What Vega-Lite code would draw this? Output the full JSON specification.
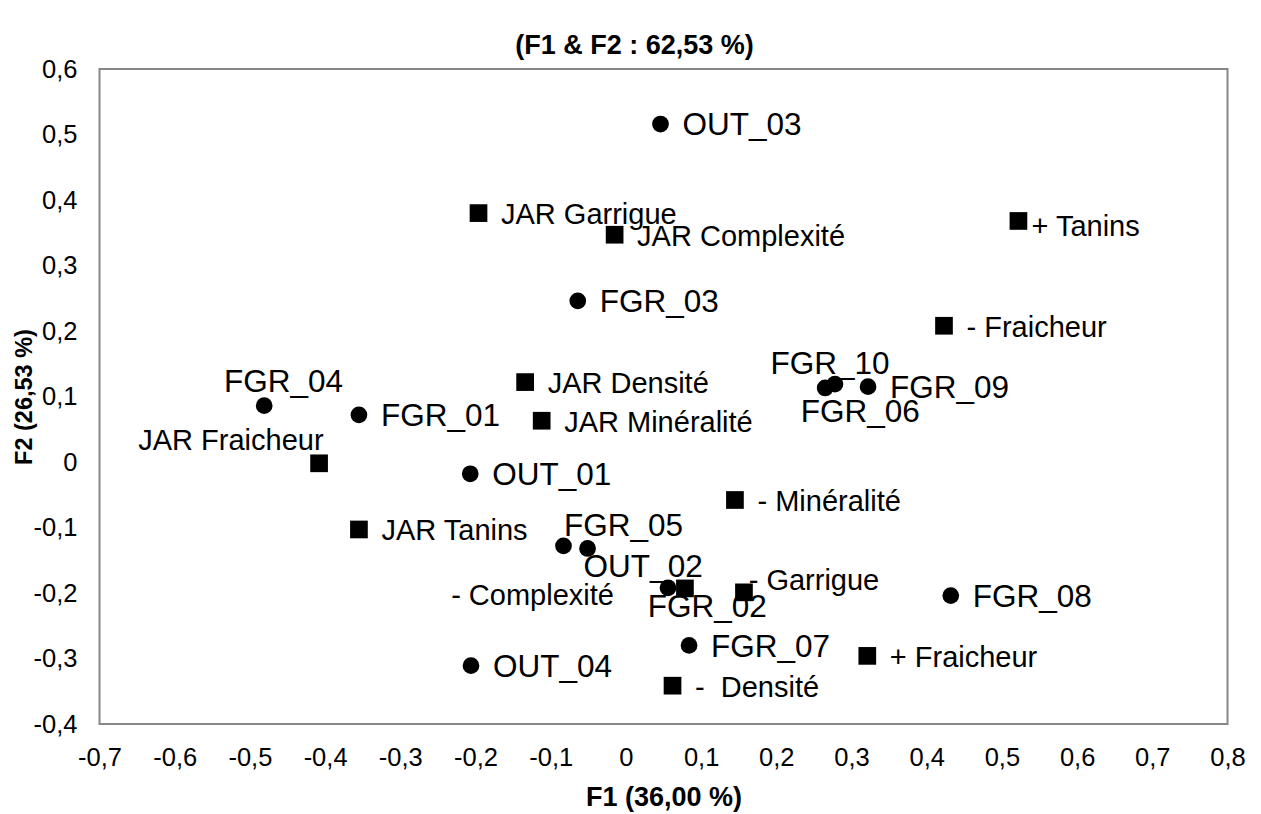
{
  "$schema": "https://vega.github.io/schema/vega-lite/v6.json",
  "width": 1128,
  "height": 655,
  "autosize": {"type": "none"},
  "padding": {"left": 99.5, "top": 69, "right": 33.5, "bottom": 90},
  "background": "white",
  "title": {"text": "(F1 & F2 : 62,53 %)", "font": "Liberation Sans", "fontSize": 27, "fontWeight": "bold", "color": "black", "anchor": "middle", "baseline": "alphabetic", "offset": 14, "dx": -29, "dy": 38},
  "config": {
    "view": {"stroke": "#878787", "strokeWidth": 2},
    "font": "Liberation Sans",
    "axis": {"labelFont": "Liberation Sans", "titleFont": "Liberation Sans", "labelColor": "black", "titleColor": "black", "titleFontWeight": "bold", "grid": false, "domain": false, "ticks": false, "labelFlush": false}
  },
  "datasets": {
    "pts": [
      {"name": "OUT_03", "type": "obs", "F1": 0.046, "F2": 0.516},
      {"name": "FGR_03", "type": "obs", "F1": -0.064, "F2": 0.246},
      {"name": "FGR_04", "type": "obs", "F1": -0.481, "F2": 0.086},
      {"name": "FGR_01", "type": "obs", "F1": -0.355, "F2": 0.072},
      {"name": "OUT_01", "type": "obs", "F1": -0.207, "F2": -0.018},
      {"name": "FGR_10", "type": "obs", "F1": 0.278, "F2": 0.119},
      {"name": "FGR_06", "type": "obs", "F1": 0.265, "F2": 0.113},
      {"name": "FGR_09", "type": "obs", "F1": 0.322, "F2": 0.115},
      {"name": "FGR_05", "type": "obs", "F1": -0.083, "F2": -0.128},
      {"name": "OUT_02", "type": "obs", "F1": -0.051, "F2": -0.132},
      {"name": "FGR_02", "type": "obs", "F1": 0.056, "F2": -0.192},
      {"name": "FGR_08", "type": "obs", "F1": 0.432, "F2": -0.204},
      {"name": "FGR_07", "type": "obs", "F1": 0.084, "F2": -0.280},
      {"name": "OUT_04", "type": "obs", "F1": -0.206, "F2": -0.311},
      {"name": "JAR Garrigue", "type": "var", "F1": -0.196, "F2": 0.380},
      {"name": "JAR Complexité", "type": "var", "F1": -0.015, "F2": 0.347},
      {"name": "+ Tanins", "type": "var", "F1": 0.522, "F2": 0.368},
      {"name": "- Fraicheur", "type": "var", "F1": 0.423, "F2": 0.208},
      {"name": "JAR Densité", "type": "var", "F1": -0.134, "F2": 0.122},
      {"name": "JAR Minéralité", "type": "var", "F1": -0.112, "F2": 0.063},
      {"name": "JAR Fraicheur", "type": "var", "F1": -0.408, "F2": -0.002},
      {"name": "JAR Tanins", "type": "var", "F1": -0.355, "F2": -0.103},
      {"name": "- Minéralité", "type": "var", "F1": 0.145, "F2": -0.058},
      {"name": "- Complexité", "type": "var", "F1": 0.0785, "F2": -0.193},
      {"name": "- Garrigue", "type": "var", "F1": 0.157, "F2": -0.199},
      {"name": "+ Fraicheur", "type": "var", "F1": 0.321, "F2": -0.296},
      {"name": "- \u00a0Densité", "type": "var", "F1": 0.062, "F2": -0.3415}
    ],
    "xt": [{"v": -0.6}, {"v": -0.5}, {"v": -0.4}, {"v": -0.3}, {"v": -0.2}, {"v": -0.1}, {"v": 0.1}, {"v": 0.2}, {"v": 0.3}, {"v": 0.4}, {"v": 0.5}, {"v": 0.6}, {"v": 0.7}],
    "yt": [{"v": -0.3}, {"v": -0.2}, {"v": -0.1}, {"v": 0.1}, {"v": 0.2}, {"v": 0.3}, {"v": 0.4}, {"v": 0.5}]
  },
  "encoding": {
    "x": {"field": "F1", "type": "quantitative", "title": "F1 (36,00 %)",
      "scale": {"domain": [-0.7, 0.8], "nice": false, "zero": false},
      "axis": {"values": [-0.7, -0.6, -0.5, -0.4, -0.3, -0.2, -0.1, 0, 0.1, 0.2, 0.3, 0.4, 0.5, 0.6, 0.7, 0.8],
        "labelExpr": "replace(replace(format(datum.value, '.1~f'), '.', ','), '−', '-')",
        "labelFontSize": 25.5, "labelPadding": 21, "titleFontSize": 27, "titlePadding": 14}},
    "y": {"field": "F2", "type": "quantitative", "title": "F2 (26,53 %)",
      "scale": {"domain": [-0.4, 0.6], "nice": false, "zero": false},
      "axis": {"values": [-0.4, -0.3, -0.2, -0.1, 0, 0.1, 0.2, 0.3, 0.4, 0.5, 0.6],
        "labelExpr": "replace(replace(format(datum.value, '.1~f'), '.', ','), '−', '-')",
        "labelFontSize": 25.5, "labelPadding": 22.5, "titleFontSize": 23.5, "titlePadding": -3}}
  },
  "layer": [
    {"mark": {"type": "rule", "color": "#898989", "strokeWidth": 1},
      "encoding": {"x": {"datum": 0, "type": "quantitative", "title": "F1 (36,00 %)"}, "y": null}},
    {"mark": {"type": "rule", "color": "#898989", "strokeWidth": 1},
      "encoding": {"y": {"datum": 0, "type": "quantitative", "title": "F2 (26,53 %)"}, "x": null}},
    {"data": {"name": "xt"}, "mark": {"type": "tick", "orient": "vertical", "size": 15, "thickness": 1, "color": "#898989", "opacity": 1},
      "encoding": {"x": {"field": "v", "type": "quantitative", "title": "F1 (36,00 %)"}, "y": {"datum": 0, "type": "quantitative", "title": "F2 (26,53 %)"}}},
    {"data": {"name": "yt"}, "mark": {"type": "tick", "orient": "horizontal", "size": 15, "thickness": 1, "color": "#898989", "opacity": 1},
      "encoding": {"y": {"field": "v", "type": "quantitative", "title": "F2 (26,53 %)"}, "x": {"datum": 0, "type": "quantitative", "title": "F1 (36,00 %)"}}},
    {"data": {"name": "pts"}, "transform": [{"filter": {"field": "type", "equal": "obs"}}],
      "mark": {"type": "point", "shape": "circle", "filled": true, "size": 280, "color": "black", "opacity": 1, "strokeWidth": 0}},
    {"data": {"name": "pts"}, "transform": [{"filter": {"field": "type", "equal": "var"}}],
      "mark": {"type": "point", "shape": "square", "filled": true, "size": 313, "color": "black", "opacity": 1, "strokeWidth": 0}},
    {"data": {"name": "pts"},
      "transform": [{"filter": {"and": [{"field": "type", "equal": "obs"}, {"not": {"field": "name", "oneOf": ["FGR_04", "FGR_05", "OUT_02", "FGR_02", "FGR_10", "FGR_06"]}}]}}],
      "mark": {"type": "text", "align": "left", "baseline": "middle", "dx": 22, "dy": 2.2, "fontSize": 31.5, "color": "black", "font": "Liberation Sans"},
      "encoding": {"text": {"field": "name"}}},
    {"data": {"name": "pts"},
      "transform": [{"filter": {"and": [{"field": "type", "equal": "var"}, {"not": {"field": "name", "oneOf": ["+ Tanins", "- Garrigue", "- Complexité", "JAR Fraicheur"]}}]}}],
      "mark": {"type": "text", "align": "left", "baseline": "middle", "dx": 22.5, "dy": 2, "fontSize": 29, "color": "black", "font": "Liberation Sans"},
      "encoding": {"text": {"field": "name"}}},
    {"data": {"name": "pts"}, "transform": [{"filter": {"field": "name", "equal": "+ Tanins"}}],
      "mark": {"type": "text", "align": "left", "baseline": "middle", "dx": 13, "dy": 5.7, "fontSize": 29, "color": "black", "font": "Liberation Sans"},
      "encoding": {"text": {"field": "name"}}},
    {"data": {"name": "pts"}, "transform": [{"filter": {"field": "name", "equal": "- Garrigue"}}],
      "mark": {"type": "text", "align": "left", "baseline": "middle", "dx": 4.7, "dy": -11.3, "fontSize": 29, "color": "black", "font": "Liberation Sans"},
      "encoding": {"text": {"field": "name"}}},
    {"data": {"name": "pts"}, "transform": [{"filter": {"field": "name", "equal": "- Complexité"}}],
      "mark": {"type": "text", "align": "right", "baseline": "middle", "dx": -71, "dy": 7.4, "fontSize": 29, "color": "black", "font": "Liberation Sans"},
      "encoding": {"text": {"field": "name"}}},
    {"data": {"name": "pts"}, "transform": [{"filter": {"field": "name", "equal": "JAR Fraicheur"}}],
      "mark": {"type": "text", "align": "right", "baseline": "middle", "dx": 4.5, "dy": -21.9, "fontSize": 29, "color": "black", "font": "Liberation Sans"},
      "encoding": {"text": {"field": "name"}}},
    {"data": {"name": "pts"}, "transform": [{"filter": {"field": "name", "equal": "FGR_04"}}],
      "mark": {"type": "text", "align": "center", "baseline": "middle", "dx": 19.3, "dy": -23.1, "fontSize": 31.5, "color": "black", "font": "Liberation Sans"},
      "encoding": {"text": {"field": "name"}}},
    {"data": {"name": "pts"}, "transform": [{"filter": {"field": "name", "equal": "FGR_05"}}],
      "mark": {"type": "text", "align": "center", "baseline": "middle", "dx": 60, "dy": -18.6, "fontSize": 31.5, "color": "black", "font": "Liberation Sans"},
      "encoding": {"text": {"field": "name"}}},
    {"data": {"name": "pts"}, "transform": [{"filter": {"field": "name", "equal": "OUT_02"}}],
      "mark": {"type": "text", "align": "center", "baseline": "middle", "dx": 55.6, "dy": 19.3, "fontSize": 31.5, "color": "black", "font": "Liberation Sans"},
      "encoding": {"text": {"field": "name"}}},
    {"data": {"name": "pts"}, "transform": [{"filter": {"field": "name", "equal": "FGR_02"}}],
      "mark": {"type": "text", "align": "center", "baseline": "middle", "dx": 39.2, "dy": 20, "fontSize": 31.5, "color": "black", "font": "Liberation Sans"},
      "encoding": {"text": {"field": "name"}}},
    {"data": {"name": "pts"}, "transform": [{"filter": {"field": "name", "equal": "FGR_10"}}],
      "mark": {"type": "text", "align": "center", "baseline": "middle", "dx": -5, "dy": -19.2, "fontSize": 31.5, "color": "black", "font": "Liberation Sans"},
      "encoding": {"text": {"field": "name"}}},
    {"data": {"name": "pts"}, "transform": [{"filter": {"field": "name", "equal": "FGR_06"}}],
      "mark": {"type": "text", "align": "center", "baseline": "middle", "dx": 35, "dy": 25.2, "fontSize": 31.5, "color": "black", "font": "Liberation Sans"},
      "encoding": {"text": {"field": "name"}}}
  ]
}
